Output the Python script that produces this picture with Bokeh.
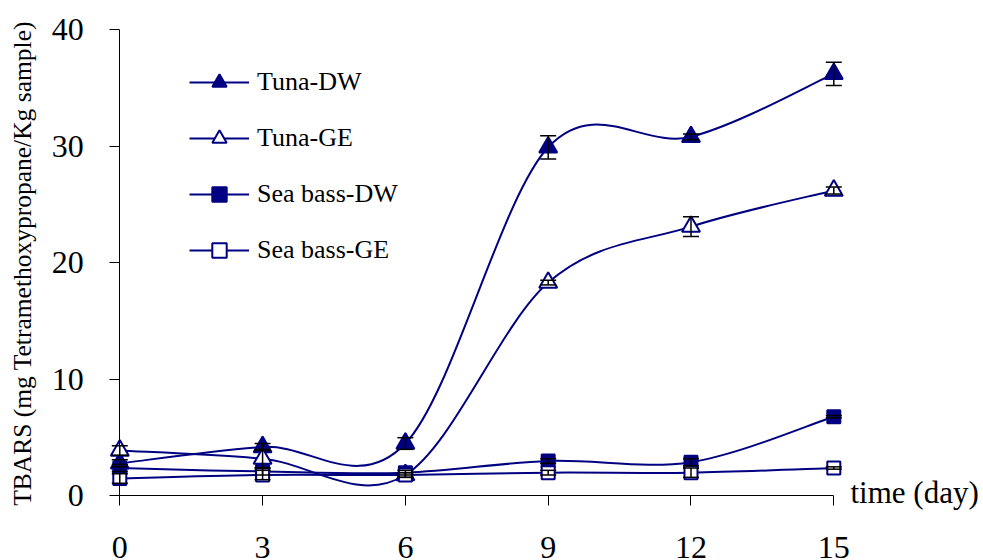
import numpy as np
from bokeh.plotting import figure
from bokeh.models import (ColumnDataSource, Whisker, TeeHead, Legend, LegendItem,
                          FixedTicker, Label)
from bokeh.embed import file_html
from bokeh.resources import INLINE

days = [0, 3, 6, 9, 12, 15]
tuna_dw = [2.8, 4.2, 4.5, 29.9, 30.8, 36.2]
tuna_dw_err = [0.3, 0.3, 0.5, 1.0, 0.25, 1.0]
tuna_ge = [3.9, 3.2, 1.8, 18.3, 23.1, 26.2]
tuna_ge_err = [0.4, 0.8, 0.2, 0.2, 0.85, 0.3]
seabass_dw = [2.4, 2.1, 2.0, 3.0, 2.9, 6.8]
seabass_dw_err = [0.3, 0.3, 0.2, 0.2, 0.3, 0.1]
seabass_ge = [1.5, 1.8, 1.8, 2.0, 2.0, 2.4]
seabass_ge_err = [0.4, 0.4, 0.2, 0.2, 0.4, 0.1]

series_names = ["Tuna-DW", "Tuna-GE", "Sea bass-DW", "Sea bass-GE"]
x_ticks = [0, 3, 6, 9, 12, 15]
y_ticks = [0, 10, 20, 30, 40]

NAVY = "#000080"
FONT = "Liberation Serif"

W, H = 983, 560
p = figure(width=W, height=H, output_backend="svg", toolbar_location=None,
           x_range=(-2.506, 18.145), y_range=(-5.531, 42.487),
           min_border=0, min_border_left=0, min_border_right=0,
           min_border_top=0, min_border_bottom=0)
p.outline_line_color = None
p.grid.visible = False
p.background_fill_color = "white"
p.border_fill_color = "white"

for ax in p.xaxis:
    ax.fixed_location = 0
    ax.bounds = (0, 15)
    ax.ticker = FixedTicker(ticks=x_ticks)
    ax.minor_tick_line_color = None
    ax.major_tick_out = 10
    ax.major_tick_in = 0
    ax.major_label_standoff = 31
    ax.major_label_text_font = FONT
    ax.major_label_text_font_size = "32px"
    ax.major_label_text_color = "black"
    ax.axis_line_color = "black"
    ax.major_tick_line_color = "black"
for ax in p.yaxis:
    ax.fixed_location = 0
    ax.bounds = (0, 40)
    ax.ticker = FixedTicker(ticks=y_ticks)
    ax.minor_tick_line_color = None
    ax.major_tick_out = 10
    ax.major_tick_in = 0
    ax.major_label_standoff = 26
    ax.major_label_text_font = FONT
    ax.major_label_text_font_size = "32px"
    ax.major_label_text_color = "black"
    ax.axis_line_color = "black"
    ax.major_tick_line_color = "black"


def smooth_segments(xs, ys):
    # Catmull-Rom style Bezier control points (like spreadsheet smoothed lines)
    n = len(xs)
    x0, y0, x1, y1, cx0, cy0, cx1, cy1 = [], [], [], [], [], [], [], []
    for i in range(n - 1):
        pxm = xs[i - 1] if i > 0 else xs[i]
        pym = ys[i - 1] if i > 0 else ys[i]
        pxp = xs[i + 2] if i + 2 < n else xs[i + 1]
        pyp = ys[i + 2] if i + 2 < n else ys[i + 1]
        x0.append(xs[i]); y0.append(ys[i])
        x1.append(xs[i + 1]); y1.append(ys[i + 1])
        cx0.append(xs[i] + (xs[i + 1] - pxm) / 6.0)
        cy0.append(ys[i] + (ys[i + 1] - pym) / 6.0)
        cx1.append(xs[i + 1] - (pxp - xs[i]) / 6.0)
        cy1.append(ys[i + 1] - (pyp - ys[i]) / 6.0)
    return dict(x0=x0, y0=y0, x1=x1, y1=y1, cx0=cx0, cy0=cy0, cx1=cx1, cy1=cy1)


values = [tuna_dw, tuna_ge, seabass_dw, seabass_ge]
errors = [tuna_dw_err, tuna_ge_err, seabass_dw_err, seabass_ge_err]
markers = ["triangle", "triangle", "square", "square"]
fills = [NAVY, "white", NAVY, "white"]
sizes = [18, 18, 13, 13]

items = []
bez_rs, sc_rs = [], []
for vals in values:
    seg = ColumnDataSource(smooth_segments(days, vals))
    r = p.bezier(x0="x0", y0="y0", x1="x1", y1="y1", cx0="cx0", cy0="cy0",
                 cx1="cx1", cy1="cy1", source=seg, line_color=NAVY, line_width=2)
    bez_rs.append(r)

for vals, m, f, s in zip(values, markers, fills, sizes):
    sc = p.scatter(days, vals, marker=m, size=s, fill_color=f, line_color=NAVY,
                   line_width=2)
    sc_rs.append(sc)

for vals, err in zip(values, errors):
    src = ColumnDataSource(dict(x=days,
                                upper=[v + e for v, e in zip(vals, err)],
                                lower=[v - e for v, e in zip(vals, err)]))
    w = Whisker(base="x", upper="upper", lower="lower", source=src,
                line_color="black", line_width=1.5, level="overlay",
                upper_head=TeeHead(size=16, line_color="black", line_width=1.5),
                lower_head=TeeHead(size=16, line_color="black", line_width=1.5))
    p.add_layout(w)

for name, b, sc in zip(series_names, bez_rs, sc_rs):
    items.append(LegendItem(label=name, renderers=[b, sc]))

legend = Legend(items=items, location=(189, 292), padding=0, margin=0,
                spacing=20, glyph_width=60, glyph_height=36, label_height=36,
                label_standoff=8, label_text_font=FONT,
                label_text_font_size="26px", label_text_color="black",
                background_fill_alpha=0, border_line_color=None)
p.add_layout(legend)

p.add_layout(Label(x=-2.044, y=19.94, text="TBARS (mg Tetramethoxypropane/Kg sample)",
                   angle=np.pi / 2, text_align="center", text_baseline="middle",
                   text_font=FONT, text_font_size="25.5px", text_color="black"))
p.add_layout(Label(x=15.35, y=0.3, text="time (day)", text_align="left",
                   text_baseline="alphabetic", text_font=FONT,
                   text_font_size="31px", text_color="black"))

open("out.html", "w").write(file_html(p, INLINE))
